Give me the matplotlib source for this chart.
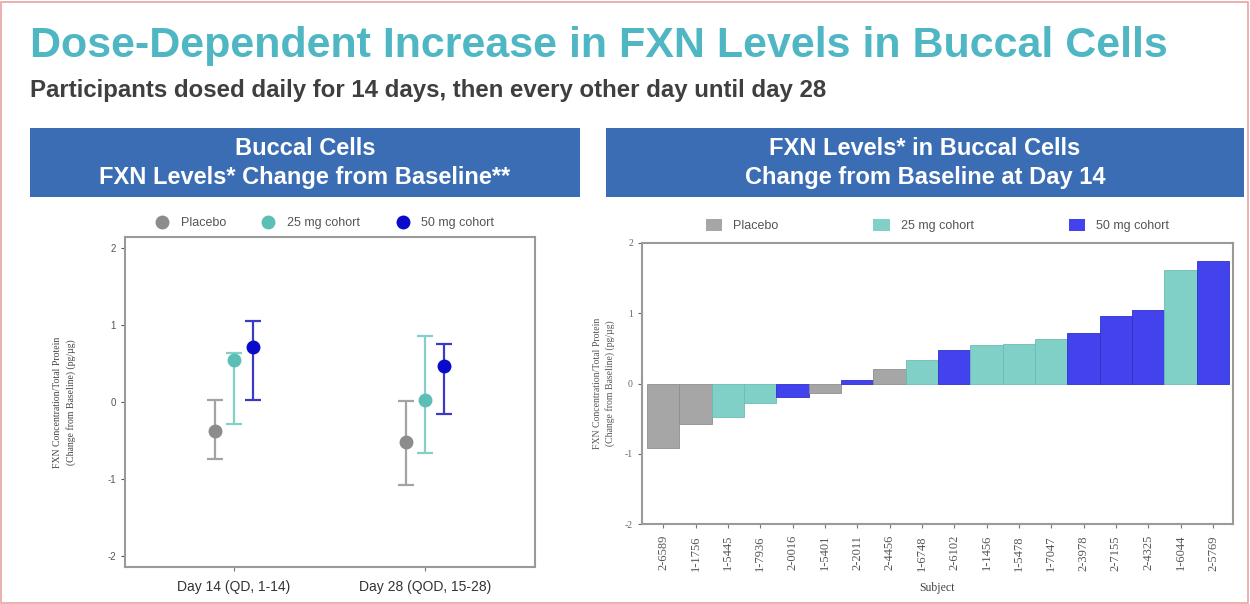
import numpy as np
import matplotlib
matplotlib.use('Agg')
import matplotlib.pyplot as plt
from matplotlib.patches import Rectangle, Patch
from matplotlib.lines import Line2D

plt.rcParams['axes.unicode_minus'] = False

SANS = ['Liberation Sans', 'DejaVu Sans']
SERIF = ['Liberation Serif', 'DejaVu Serif']

# left chart: mean change from baseline with error bars
days = ['Day 14 (QD, 1-14)', 'Day 28 (QOD, 15-28)']
cohorts = ['Placebo', '25 mg cohort', '50 mg cohort']
means = {'Placebo': [-0.37, -0.52],
         '25 mg cohort': [0.55, 0.02],
         '50 mg cohort': [0.71, 0.47]}
upper = {'Placebo': [0.03, 0.01],
         '25 mg cohort': [0.64, 0.86],
         '50 mg cohort': [1.05, 0.75]}
lower = {'Placebo': [-0.74, -1.08],
         '25 mg cohort': [-0.29, -0.66],
         '50 mg cohort': [0.03, -0.16]}

# right chart: per-subject change at day 14
subjects = ['2-6589', '1-1756', '1-5445', '1-7936', '2-0016', '1-5401',
            '2-2011', '2-4456', '1-6748', '2-6102', '1-1456', '1-5478',
            '1-7047', '2-3978', '2-7155', '2-4325', '1-6044', '2-5769']
subj_cohort = ['Placebo', 'Placebo', '25 mg cohort', '25 mg cohort', '50 mg cohort', 'Placebo',
               '50 mg cohort', 'Placebo', '25 mg cohort', '50 mg cohort', '25 mg cohort', '25 mg cohort',
               '25 mg cohort', '50 mg cohort', '50 mg cohort', '50 mg cohort', '25 mg cohort', '50 mg cohort']
subj_change = [-0.92, -0.57, -0.47, -0.28, -0.19, -0.13,
               0.05, 0.20, 0.33, 0.48, 0.55, 0.56,
               0.64, 0.72, 0.96, 1.04, 1.61, 1.74]

marker_col = {'Placebo': '#8c8c8c', '25 mg cohort': '#5cbfb6', '50 mg cohort': '#0a0acc'}
err_col = {'Placebo': '#a3a3a3', '25 mg cohort': '#84d0c8', '50 mg cohort': '#3a3ac6'}
bar_col = {'Placebo': '#a6a6a6', '25 mg cohort': '#80d0c8', '50 mg cohort': '#4343ee'}
bar_edge = {'Placebo': '#8f8f8f', '25 mg cohort': '#6cbcb4', '50 mg cohort': '#2f2fcc'}
frame_col = '#9a9a9a'

fig = plt.figure(figsize=(12.5, 6.04), dpi=100)
W, H = 1250, 604


def fx(x):
    return x / W


def fy(y):
    return 1 - y / H


# outer border
fig.patches.append(Rectangle((0.001, 0.002), 0.997, 0.995, transform=fig.transFigure,
                             fill=False, edgecolor='#e9a3a3', linewidth=1.2))

fig.text(fx(30), fy(46), 'Dose-Dependent Increase in FXN Levels in Buccal Cells',
         family=SANS, fontweight='bold', fontsize=31, color='#4fb6c4', va='center')
fig.text(fx(30), fy(91), 'Participants dosed daily for 14 days, then every other day until day 28',
         family=SANS, fontweight='bold', fontsize=17.3, color='#3f3f3f', va='center')

# header boxes
for x0, x1, txt in [(30, 580, 'Buccal Cells\nFXN Levels* Change from Baseline**'),
                    (606, 1244, 'FXN Levels* in Buccal Cells\nChange from Baseline at Day 14')]:
    fig.patches.append(Rectangle((fx(x0), fy(197)), fx(x1 - x0), (197 - 128) / H,
                                 transform=fig.transFigure, facecolor='#3a6db4', edgecolor='none'))
    fig.text(fx((x0 + x1) / 2), fy(163), txt, family=SANS, fontweight='bold', fontsize=17,
             color='white', ha='center', va='center', linespacing=1.35)

# ---- left chart
ax1 = fig.add_axes([fx(125), fy(567), fx(535 - 125), (567 - 237) / H])
xpos = np.arange(len(days))
offsets = [-0.1, 0.0, 0.1]
for c, off in zip(cohorts, offsets):
    m = np.array(means[c])
    yerr = [m - np.array(lower[c]), np.array(upper[c]) - m]
    ax1.errorbar(xpos + off, m, yerr=yerr, fmt='none', ecolor=err_col[c],
                 elinewidth=1.6, capsize=6, capthick=1.6, zorder=2)
    ax1.plot(xpos + off, m, 'o', color=marker_col[c], markersize=9, zorder=3)
ax1.set_xlim(-0.57, 1.576)
ax1.set_ylim(-2.14, 2.14)
ax1.set_yticks([-2, -1, 0, 1, 2])
ax1.set_xticks(xpos)
ax1.set_xticklabels(days, family=SANS, fontsize=10, color='#333333')
ax1.tick_params(axis='y', labelsize=7, colors='#555555', length=3, width=0.8)
ax1.tick_params(axis='x', length=3, width=0.8, colors='#777777', labelcolor='#333333', pad=6)
for lab in ax1.get_yticklabels():
    lab.set_family(SANS)
for s in ax1.spines.values():
    s.set_color(frame_col)
    s.set_linewidth(1.5)
ax1.set_ylabel('FXN Concentration/Total Protein\n(Change from Baseline) (pg/µg)',
               family=SERIF, fontsize=7, color='#444444', linespacing=1.5)
ax1.yaxis.set_label_coords(-0.12, 0.5)
h1 = [Line2D([], [], marker='o', linestyle='none', color=marker_col[c], markersize=9) for c in cohorts]
ax1.legend(h1, cohorts, loc='lower center', bbox_to_anchor=(0.48, 1.0), ncol=3, frameon=False,
           prop={'family': SANS, 'size': 9}, labelcolor='#555555', handletextpad=0.5,
           columnspacing=2.4, borderaxespad=0.2)

# ---- right chart
ax2 = fig.add_axes([fx(642), fy(524), fx(1233 - 642), (524 - 243) / H])
xs = np.arange(len(subjects))
ax2.bar(xs, subj_change, width=1.0, color=[bar_col[c] for c in subj_cohort],
        edgecolor=[bar_edge[c] for c in subj_cohort], linewidth=0.6, zorder=2)
ax2.set_xlim(-0.655, 17.62)
ax2.set_ylim(-2, 2)
ax2.set_yticks([-2, -1, 0, 1, 2])
ax2.set_xticks(xs)
ax2.set_xticklabels(subjects, rotation=90, family=SERIF, fontsize=9, color='#555555')
ax2.tick_params(axis='y', labelsize=7, colors='#666666', length=3, width=0.8)
ax2.tick_params(axis='x', length=3, width=0.8, colors='#777777', labelcolor='#555555', pad=5)
for lab in ax2.get_yticklabels():
    lab.set_family(SERIF)
for s in ax2.spines.values():
    s.set_color(frame_col)
    s.set_linewidth(1.5)
ax2.set_ylabel('FXN Concentration/Total Protein\n(Change from Baseline) (pg/µg)',
               family=SERIF, fontsize=7, color='#555555', linespacing=1.4)
ax2.yaxis.set_label_coords(-0.045, 0.5)
ax2.set_xlabel('Subject', family=SERIF, fontsize=8.5, color='#444444', labelpad=8)
h2 = [Patch(facecolor=bar_col[c], edgecolor='none') for c in cohorts]
ax2.legend(h2, cohorts, loc='lower center', bbox_to_anchor=(0.5, 1.0), ncol=3, frameon=False,
           prop={'family': SANS, 'size': 9}, labelcolor='#555555', handletextpad=0.9,
           handlelength=1.3, handleheight=1.1, columnspacing=7.6, borderaxespad=0.45)

fig.savefig('out.png', dpi=100, facecolor='white')
